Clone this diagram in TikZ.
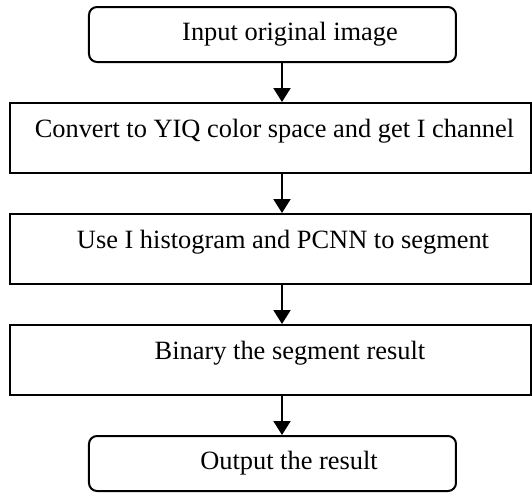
\documentclass[tikz,border=0pt]{standalone}
\usepackage{fontspec}
\setmainfont{Liberation Serif}
\usetikzlibrary{arrows.meta}
\begin{document}
\begin{tikzpicture}[x=0.5pt,y=-0.5pt,
  rbox/.style={draw,line width=1pt,rounded corners=4pt,minimum width=183.5pt,minimum height=27.5pt,inner sep=0pt},
  sbox/.style={draw,line width=1pt,minimum width=260.5pt,minimum height=35pt,inner sep=0pt},
  lbl/.style={font=\fontsize{13.2}{15}\selectfont,inner sep=0pt},
  arr/.style={line width=1pt,-{Triangle[length=7pt,width=8.5pt]}}]
\useasboundingbox (0,0) rectangle (532,493);
\node[rbox] (b1) at (272.5,34.5) {};
\node[sbox] (b2) at (270.5,138) {};
\node[sbox] (b3) at (270.5,249) {};
\node[sbox] (b4) at (270.5,360) {};
\node[rbox] (b5) at (272.5,463.5) {};
\node[lbl] (t1) at (290,34.5) {Input original image};
\node[lbl] (t2) at (274.5,131) {Convert to YIQ color space and get I channel};
\node[lbl] (t3) at (283,242) {Use I histogram and PCNN to segment};
\node[lbl] (t4) at (290,353) {Binary the segment result};
\node[lbl] (t5) at (289,463.5) {Output the result};
\coordinate (ax) at (282,0);
\draw[arr] (b1.south -| ax) -- (b2.north -| ax);
\draw[arr] (b2.south -| ax) -- (b3.north -| ax);
\draw[arr] (b3.south -| ax) -- (b4.north -| ax);
\draw[arr] (b4.south -| ax) -- (b5.north -| ax);
\end{tikzpicture}
\end{document}
